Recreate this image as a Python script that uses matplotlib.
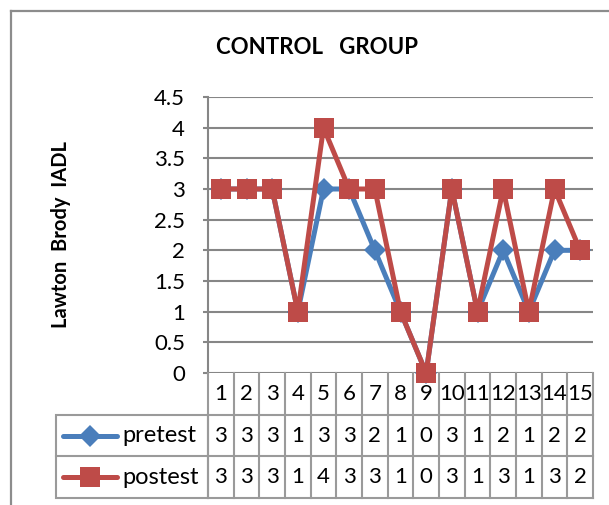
import numpy as np
import matplotlib.pyplot as plt
from matplotlib.lines import Line2D
from matplotlib.patches import Rectangle

# data
subjects = [str(i) for i in range(1, 16)]
pretest = [3, 3, 3, 1, 3, 3, 2, 1, 0, 3, 1, 2, 1, 2, 2]
postest = [3, 3, 3, 1, 4, 3, 3, 1, 0, 3, 1, 3, 1, 3, 2]
series_names = ["pretest", "postest"]
yticks = [0, 0.5, 1, 1.5, 2, 2.5, 3, 3.5, 4, 4.5]

blue = "#4A7EBB"
red = "#BE4B48"
grid = "#868686"

plt.rcParams['font.family'] = ['Lato', 'DejaVu Sans']

W, H = 609, 505
fig = plt.figure(figsize=(W / 100, H / 100), dpi=100)


def box(x0, y0, x1, y1):
    # pixel box (top-left origin) -> figure fraction rect
    return [x0 / W, 1 - y1 / H, (x1 - x0) / W, (y1 - y0) / H]


# outer chart frame
fig.add_artist(Line2D([11 / W, 11 / W], [0, 1 - 11 / H], color="#8c8c8c", lw=1.6))
fig.add_artist(Line2D([11 / W, 1], [1 - 11 / H, 1 - 11 / H], color="#8c8c8c", lw=1.6))

x = np.arange(1, 16)

ax = fig.add_axes(box(208, 97, 593, 373))
ax.set_xlim(0.5, 15.5)
ax.set_ylim(0, 4.5)
ax.set_yticks(yticks)
ax.set_yticklabels([f"{v:g}" for v in yticks], fontsize=16)
ax.tick_params(axis="y", length=3.6, width=1.5, color=grid, pad=13)
ax.set_xticks([])
for v in yticks:
    ax.axhline(v, color=grid, lw=1.5, zorder=1)
for s in ["top", "right", "bottom"]:
    ax.spines[s].set_visible(False)
ax.spines["left"].set_color(grid)
ax.spines["left"].set_linewidth(1.5)

ax.plot(x, pretest, color=blue, lw=3.6, marker="D", markersize=11,
        markeredgewidth=0, zorder=3, clip_on=False)
ax.plot(x, postest, color=red, lw=3.6, marker="s", markersize=14.5,
        markeredgewidth=0, zorder=4, clip_on=False)

ax.set_ylabel("Lawton  Brody  IADL", fontsize=14.5, fontweight="bold")
ax.yaxis.set_label_coords((71 - 208) / 385, 0.5)
fig.text(317 / W, 1 - 47 / H, "CONTROL   GROUP", ha="center", va="center",
         fontsize=16, fontweight="bold")

# data table under the plot
tab = fig.add_axes(box(208, 373, 593, 498))
tab.set_xlim(0.5, 15.5)
tab.set_ylim(0, 3)
tab.axis("off")
tc = "#9a9a9a"
for b in np.arange(0.5, 16, 1):
    tab.plot([b, b], [0, 3], color=tc, lw=1.5, clip_on=False)
for yy in [0, 1, 2]:
    tab.plot([0.5, 15.5], [yy, yy], color=tc, lw=1.5, clip_on=False)
for i, lab in enumerate(subjects):
    tab.text(x[i], 2.5, lab, ha="center", va="center", fontsize=16)
for row, vals in zip([1.5, 0.5], [pretest, postest]):
    for i, v in enumerate(vals):
        tab.text(x[i], row, str(v), ha="center", va="center", fontsize=16)

# legend cells on the left of the table
lx0, lx1 = 56 / W, 208 / W
rows_px = [(415, 456), (456, 498)]
fig.add_artist(Rectangle((lx0, 1 - 498 / H), lx1 - lx0, (498 - 415) / H,
                         fill=False, edgecolor=tc, lw=1.5))
fig.add_artist(Line2D([lx0, lx1], [1 - 456 / H] * 2, color=tc, lw=1.5))
for (t, b), name, c, m, ms in zip(rows_px, series_names, [blue, red], ["D", "s"], [11, 14.5]):
    yc = 1 - (t + b) / 2 / H
    fig.add_artist(Line2D([63 / W, 117 / W], [yc, yc], color=c, lw=3.6,
                          solid_capstyle="round"))
    fig.add_artist(Line2D([90 / W], [yc], color=c, marker=m, markersize=ms,
                          markeredgewidth=0))
    fig.text(122 / W, yc, name, ha="left", va="center", fontsize=17)

fig.savefig("out.png", dpi=100)
